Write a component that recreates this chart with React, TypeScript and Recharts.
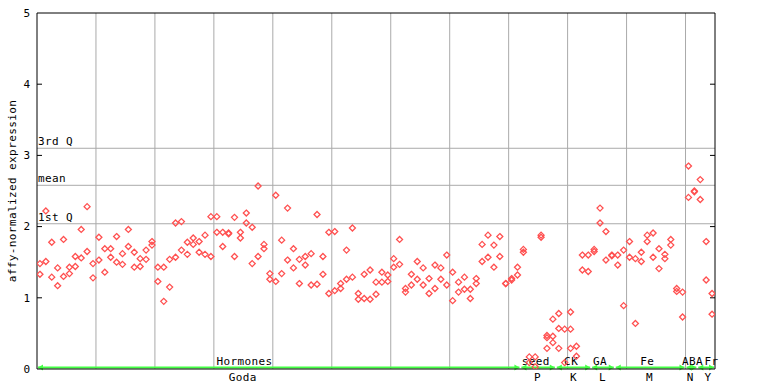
import React from 'react';
import { ScatterChart, Scatter, XAxis, YAxis, ReferenceLine, ReferenceDot } from 'recharts';

// replicate values per sample (115 samples)
const rep1 = [
  1.48, 2.22, 1.78, 1.42, 1.82, 1.43, 1.58, 1.96, 2.28, 1.48,
  1.85, 1.69, 1.69, 1.86, 1.62, 1.96, 1.64, 1.55, 1.67, 1.79,
  1.43, 1.43, 1.54, 2.05, 2.07, 1.78, 1.84, 1.79, 1.88, 2.14,
  2.14, 1.92, 1.91, 2.13, 1.92, 2.19, 1.99, 2.57, 1.75, 1.34,
  2.44, 1.81, 2.26, 1.69, 1.54, 1.58, 1.62, 2.17, 1.58, 1.92,
  1.93, 1.20, 1.67, 1.98, 1.06, 1.33, 1.39, 1.22, 1.36, 1.32,
  1.55, 1.82, 1.13, 1.33, 1.51, 1.42, 1.27, 1.46, 1.42, 1.60,
  1.36, 1.22, 1.29, 1.12, 1.27, 1.75, 1.88, 1.74, 1.86, 1.20,
  1.27, 1.43, 1.68, 0.17, 0.17, 1.88, 0.47, 0.70, 0.78, 0.56,
  0.80, 0.32, 1.60, 1.60, 1.68, 2.26, 1.93, 1.60, 1.60, 1.67,
  1.79, 1.55, 1.64, 1.88, 1.91, 1.69, 1.61, 1.82, 1.13, 1.08,
  2.85, 2.50, 2.66, 1.79, 1.06,
];
const rep2 = [
  1.33, 1.51, 1.29, 1.17, 1.30, 1.34, 1.44, 1.56, 1.65, 1.28,
  1.53, 1.36, 1.57, 1.50, 1.47, 1.72, 1.43, 1.44, 1.54, 1.74,
  1.23, 0.95, 1.15, 1.57, 1.67, 1.61, 1.75, 1.64, 1.61, 1.58,
  1.92, 1.72, 1.90, 1.58, 1.84, 2.05, 1.48, 1.58, 1.69, 1.26,
  1.23, 1.34, 1.53, 1.42, 1.20, 1.46, 1.18, 1.19, 1.33, 1.06,
  1.10, 1.13, 1.26, 1.29, 0.98, 0.99, 0.98, 1.05, 1.22, 1.23,
  1.43, 1.47, 1.08, 1.18, 1.26, 1.18, 1.06, 1.13, 1.26, 1.18,
  0.96, 1.08, 1.12, 0.99, 1.20, 1.51, 1.57, 1.43, 1.58, 1.20,
  1.25, 1.32, 1.64, 0.09, 0.03, 1.85, 0.44, 0.46, 0.57, 0.09,
  0.56, 0.18, 1.39, 1.37, 1.65, 2.05, 1.53, 1.59, 1.46, 0.89,
  1.57, 0.64, 1.51, 1.79, 1.57, 1.41, 1.55, 1.74, 1.09, 0.73,
  2.41, 2.49, 2.38, 1.25, 0.77,
];
const rep3Samples = [86, 87, 88, 90];
const rep3Values = [0.29, 0.37, 0.29, 0.29];

const sampleCount = 115;
const yTicks = [0, 1, 2, 3, 4, 5];
const gridEvery = 10;

const statNames = ['3rd Q', 'mean', '1st Q'];
const statValues = [3.10, 2.58, 2.04];

const groupTop = ['Hormones', 'seed', 'CK', 'GA', 'Fe', 'ABA', 'Fr'];
const groupBottom = ['Goda', 'P', 'K', 'L', 'M', 'N', 'Y'];
const groupStart = [0, 82, 88, 94, 98, 110, 112];
const groupEnd = [82, 88, 94, 98, 110, 112, 115];
const groupTopAt = [35.2, 84.6, 90.6, 95.5, 103.5, 111.2, 114.4];
const groupBottomAt = [34.9, 84.9, 91.0, 95.9, 103.9, 110.8, 113.8];

const FONT = '"DejaVu Sans Mono", monospace';
const RED = '#ff5050';
const GRID = '#aaaaaa';
const GREEN = '#44ff44';

const points = [
  ...rep1.map((v, i) => ({ x: i + 0.5, y: v })),
  ...rep2.map((v, i) => ({ x: i + 0.5, y: v })),
  ...rep3Samples.map((s, k) => ({ x: s + 0.5, y: rep3Values[k] })),
];

const Diamond = (props: any) => {
  const { cx, cy } = props;
  if (cx == null || cy == null) return null;
  const r = 3;
  return (
    <path
      d={`M${cx},${cy - r}L${cx + r},${cy}L${cx},${cy + r}L${cx - r},${cy}Z`}
      fill="none"
      stroke={RED}
      strokeWidth={1.3}
    />
  );
};

const YTick = (props: any) => {
  const { x, y, payload } = props;
  return (
    <text x={x - 7} y={y} dy="0.35em" textAnchor="end" fontFamily={FONT} fontSize={11} fill="#000">
      {payload.value}
    </text>
  );
};

const gridXs = Array.from({ length: Math.floor((sampleCount - 1) / gridEvery) }, (_, k) => (k + 1) * gridEvery);

export default function App() {
  return (
    <div style={{ position: 'absolute', left: 0, top: 0, background: '#fff' }}>
      <ScatterChart width={768} height={384} margin={{ top: 13, right: 53, bottom: 0, left: 0 }}>
        <XAxis
          type="number"
          dataKey="x"
          domain={[0, sampleCount]}
          ticks={[]}
          tick={false}
          tickLine={false}
          axisLine={{ stroke: '#000' }}
          height={15}
          allowDataOverflow
        />
        <YAxis
          type="number"
          dataKey="y"
          domain={[0, 5]}
          ticks={yTicks}
          tickLine={false}
          tickSize={0}
          tickMargin={0}
          tick={<YTick />}
          axisLine={{ stroke: '#000' }}
          width={37}
          allowDataOverflow
          label={(p: any) => {
            const vb = p.viewBox || { x: 0, y: 13, width: 37, height: 356 };
            const cx = 12;
            const cy = vb.y + vb.height / 2;
            return (
              <text
                x={cx}
                y={cy}
                transform={`rotate(-90 ${cx} ${cy})`}
                textAnchor="middle"
                dominantBaseline="central"
                fontFamily={FONT}
                fontSize={11}
                letterSpacing={0.4}
                fill="#000"
              >
                affy-normalized expression
              </text>
            );
          }}
        />
        {gridXs.map((gx) => (
          <ReferenceLine key={'gx' + gx} x={gx} stroke={GRID} strokeWidth={1} />
        ))}
        {statValues.map((v, k) => (
          <ReferenceLine
            key={'st' + k}
            y={v}
            stroke={GRID}
            strokeWidth={1}
            label={(p: any) => {
              const vb = p.viewBox || { x: 37, y: 0 };
              return (
                <text x={vb.x + 1} y={vb.y - 3} fontFamily={FONT} fontSize={11} letterSpacing={0.4} fill="#000">
                  {statNames[k]}
                </text>
              );
            }}
          />
        ))}
        <ReferenceLine y={5} stroke="#000" strokeWidth={1} />
        <ReferenceLine x={sampleCount} stroke="#000" strokeWidth={1} />
        {yTicks.slice(1, -1).map((t) => (
          <ReferenceLine
            key={'lt' + t}
            segment={[{ x: 0, y: t }, { x: 0.85, y: t }]}
            stroke="#000"
            strokeWidth={1}
          />
        ))}
        {yTicks.slice(1, -1).map((t) => (
          <ReferenceLine
            key={'rt' + t}
            segment={[{ x: sampleCount - 0.85, y: t }, { x: sampleCount, y: t }]}
            stroke="#000"
            strokeWidth={1}
          />
        ))}
        {groupStart.map((s, k) => (
          <ReferenceLine
            key={'gl' + k}
            segment={[{ x: s, y: 0 }, { x: groupEnd[k], y: 0 }]}
            shape={(p: any) => {
              const { x1, y1, x2 } = p;
              const y = y1 - 1.5;
              const a = Math.min(x1, x2) + 1;
              const b = Math.max(x1, x2) - 1;
              return (
                <g>
                  <line x1={a} y1={y} x2={b} y2={y} stroke={GREEN} strokeWidth={2} />
                  <path d={`M${a},${y}L${a + 5},${y - 3}L${a + 5},${y + 3}Z`} fill={GREEN} />
                  <path d={`M${b},${y}L${b - 5},${y - 3}L${b - 5},${y + 3}Z`} fill={GREEN} />
                </g>
              );
            }}
          />
        ))}
        {groupTop.map((t, k) => (
          <ReferenceDot
            key={'tt' + k}
            x={groupTopAt[k]}
            y={0}
            r={0}
            ifOverflow="visible"
            shape={(p: any) => (
              <text x={p.cx} y={p.cy - 4} textAnchor="middle" fontFamily={FONT} fontSize={11} letterSpacing={0.4} fill="#000">
                {t}
              </text>
            )}
          />
        ))}
        {groupBottom.map((t, k) => (
          <ReferenceDot
            key={'bt' + k}
            x={groupBottomAt[k]}
            y={0}
            r={0}
            ifOverflow="visible"
            shape={(p: any) => (
              <text x={p.cx} y={p.cy + 12} textAnchor="middle" fontFamily={FONT} fontSize={11} letterSpacing={0.4} fill="#000">
                {t}
              </text>
            )}
          />
        ))}
        <Scatter data={points} shape={<Diamond />} isAnimationActive={false} />
      </ScatterChart>
    </div>
  );
}
